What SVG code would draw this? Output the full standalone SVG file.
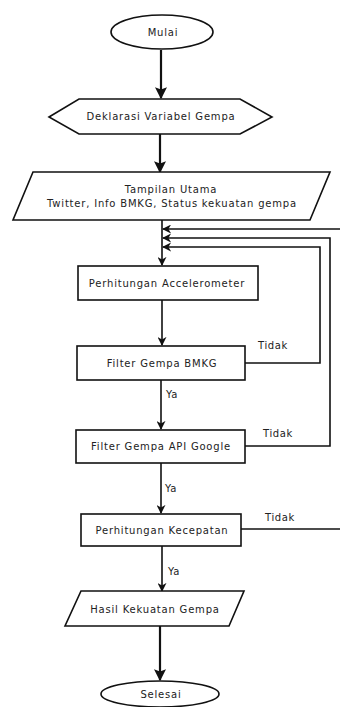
<svg xmlns="http://www.w3.org/2000/svg" width="340" height="707" viewBox="0 0 340 707">
<defs>
<style>
.s{fill:#fff;stroke:#111;stroke-width:1.6}
.t{font-family:"DejaVu Sans",Verdana,sans-serif;font-size:10px;letter-spacing:0.8px;fill:#222;text-anchor:middle}
.l{font-family:"DejaVu Sans",Verdana,sans-serif;font-size:10px;letter-spacing:0.6px;fill:#222}
.c{fill:none;stroke:#111;stroke-width:1.6}
.k{fill:none;stroke:#111;stroke-width:2.2}
</style>
<marker id="a" viewBox="0 0 10 10" refX="9" refY="5" markerWidth="9" markerHeight="9" markerUnits="userSpaceOnUse" orient="auto">
<path d="M0,0 L10,5 L0,10 L3,5 Z" fill="#111"/>
</marker>
<marker id="b" viewBox="0 0 10 10" refX="9" refY="5" markerWidth="12" markerHeight="12" markerUnits="userSpaceOnUse" orient="auto">
<path d="M0,0 L10,5 L0,10 L2,5 Z" fill="#111"/>
</marker>
</defs>
<rect width="340" height="707" fill="#fff"/>
<g id="connectors">
<path class="k" d="M161,50 V98" marker-end="url(#b)"/>
<path class="k" d="M160,134 V172" marker-end="url(#b)"/>
<path class="c" d="M162,220 V265" marker-end="url(#a)"/>
<path class="c" d="M340,229 H163" marker-end="url(#a)"/>
<path class="c" d="M245,446 H330 V238 H163" marker-end="url(#a)"/>
<path class="c" d="M245,363 H320 V247 H163" marker-end="url(#a)"/>
<path class="c" d="M241,529 H340"/>
<path class="c" d="M162,300 V345" marker-end="url(#a)"/>
<path class="c" d="M161,380 V429" marker-end="url(#a)"/>
<path class="c" d="M161,463 V513" marker-end="url(#a)"/>
<path class="c" d="M162,546 V591" marker-end="url(#a)"/>
<path class="k" d="M160,626 V680" marker-end="url(#b)"/>
<text class="l" x="258" y="349">Tidak</text>
<text class="l" x="263" y="437">Tidak</text>
<text class="l" x="265" y="521">Tidak</text>
<text class="l" x="166" y="398">Ya</text>
<text class="l" x="165" y="492">Ya</text>
<text class="l" x="168" y="575">Ya</text>
</g>
<g id="mulai">
<ellipse class="s" cx="162" cy="32" rx="51" ry="17"/>
<text class="t" x="163" y="36">Mulai</text>
</g>
<g id="deklarasi">
<polygon class="s" points="49,117 79,99 240,99 272,117 240,134 79,134"/>
<text class="t" x="161" y="120">Deklarasi Variabel Gempa</text>
</g>
<g id="tampilan">
<polygon class="s" points="33,172 330,172 310,220 13,220"/>
<text class="t" x="171" y="193">Tampilan Utama</text>
<text class="t" x="172" y="207">Twitter, Info BMKG, Status kekuatan gempa</text>
</g>
<g id="accelerometer">
<rect class="s" x="78" y="266" width="180" height="34"/>
<text class="t" x="167" y="287">Perhitungan Accelerometer</text>
</g>
<g id="bmkg">
<rect class="s" x="77" y="346" width="168" height="34"/>
<text class="t" x="162" y="367">Filter Gempa BMKG</text>
</g>
<g id="google">
<rect class="s" x="76" y="430" width="169" height="33"/>
<text class="t" x="161" y="450">Filter Gempa API Google</text>
</g>
<g id="kecepatan">
<rect class="s" x="81" y="514" width="160" height="32"/>
<text class="t" x="162" y="534">Perhitungan Kecepatan</text>
</g>
<g id="hasil">
<polygon class="s" points="81,591 244,591 229,626 65,626"/>
<text class="t" x="155" y="613">Hasil Kekuatan Gempa</text>
</g>
<g id="selesai">
<ellipse class="s" cx="160" cy="694" rx="59" ry="13"/>
<text class="t" x="161" y="698">Selesai</text>
</g>
</svg>
